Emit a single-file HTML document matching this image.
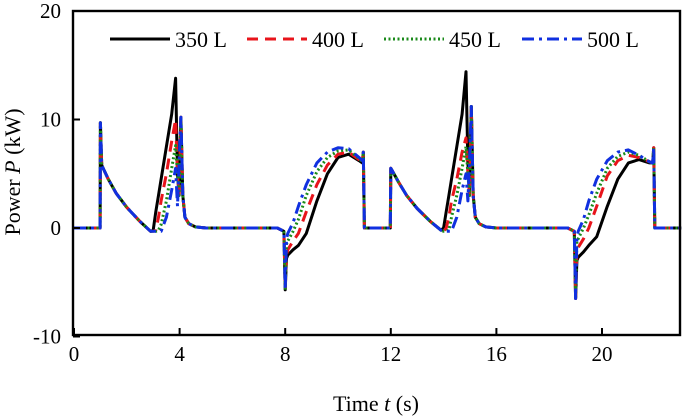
<!DOCTYPE html>
<html><head><meta charset="utf-8"><style>
html,body{margin:0;padding:0;background:#fff}
svg{display:block;font-family:"Liberation Serif",serif}
</style></head><body>
<svg id="chart" width="685" height="418" viewBox="0 0 685 418"></svg>
<script>
const times=[0,0.99,1.0,1.05,1.3,1.6,2.0,2.5,2.9,3.0,3.1,3.2,3.3,3.5,3.7,3.85,3.92,3.98,4.05,4.12,4.2,4.35,4.6,5,7.7,7.95,8.0,8.05,8.1,8.3,8.5,8.8,9.2,9.6,10.0,10.4,10.8,10.92,10.96,11.0,11.02,11.98,12.0,12.05,12.3,12.6,13,13.5,13.9,14.0,14.1,14.2,14.3,14.5,14.7,14.85,14.92,14.98,15.05,15.12,15.2,15.35,15.6,16,18.7,18.95,19.0,19.05,19.1,19.3,19.5,19.8,20.2,20.6,21.0,21.4,21.8,21.92,21.96,22.0,22.02,23];
const p350=[0,0,9.7,5.8,4.5,3.2,1.9,0.6,-0.3,-0.2,1.5,3.0,4.5,7.5,10.5,13.8,5,3,10.2,3,1,0.4,0.1,0,0,-0.3,-5.7,-2.8,-2.5,-2,-1.6,-0.5,2.5,5,6.5,6.8,6.2,6.0,7.0,0,0,0,5.5,5.3,4.2,3.0,1.8,0.6,-0.2,0,1.5,3,4.5,7.5,10.5,14.4,6,3,11.2,3,1,0.4,0.1,0,0,-0.3,-6.5,-3,-2.7,-2.2,-1.6,-0.8,2,4.5,6,6.3,6.0,6.0,7.4,0,0,0];
const p400=[0,0,9.7,5.8,4.5,3.2,1.9,0.6,-0.3,-0.3,-0.2,1,2.5,5,8,10,5,3,10.2,3,1,0.4,0.1,0,0,-0.3,-5.7,-2.5,-2.0,-1.2,-0.5,1.5,4,5.8,6.8,7,6.3,6.1,7.0,0,0,0,5.5,5.3,4.2,3.0,1.8,0.6,-0.2,-0.3,0,1,2.5,4.5,7,8.3,5,3,11.2,3,1,0.4,0.1,0,0,-0.3,-6.5,-2,-1.8,-1,0,2,4.8,6.2,6.7,6.5,6.1,6.0,7.4,0,0,0];
const p450=[0,0,9.7,5.8,4.5,3.2,1.9,0.6,-0.3,-0.3,-0.3,-0.2,0.3,2.5,5.5,7.6,5,3,10.2,3,1,0.4,0.1,0,0,-0.3,-5.7,-1.5,-1.2,-0.3,0.8,3,5.2,6.5,7.1,7.2,6.4,6.1,7.0,0,0,0,5.5,5.3,4.2,3.0,1.8,0.6,-0.2,-0.3,-0.3,-0.2,1,3,5.5,7.5,5,3,11.2,3,1,0.4,0.1,0,0,-0.3,-6.5,-1.2,-1,0,1.2,3.2,5.5,6.6,7.0,6.7,6.1,6.0,7.4,0,0,0];
const p500=[0,0,9.7,5.8,4.5,3.2,1.9,0.6,-0.3,-0.3,-0.3,-0.3,-0.3,1,3.5,5.5,2,6,10.2,3,1,0.4,0.1,0,0,-0.3,-5.7,-1,-0.5,0.5,2,4,6,7,7.4,7.3,6.5,6.2,7.0,0,0,0,5.5,5.3,4.2,3.0,1.8,0.6,-0.2,-0.3,-0.3,-0.3,-0.3,1,3.5,5,2.5,6,11.2,3,1,0.4,0.1,0,0,-0.3,-6.5,-0.8,-0.3,0.8,2.5,4.5,6.2,7,7.2,6.7,6.1,6.0,7.4,0,0,0];
const xTicks=[0,4,8,12,16,20];
const yTicks=[-10,0,10,20];
const seriesNames=["350 L","400 L","450 L","500 L"];

const NS="http://www.w3.org/2000/svg";
const svg=document.getElementById('chart');
const L=73,R=680,T=11,B=335;
const X=t=>74+t*26.4;
const Y=v=>228-v*10.85;
function mk(tag,attrs,parent){const e=document.createElementNS(NS,tag);for(const k in attrs)e.setAttribute(k,attrs[k]);(parent||svg).appendChild(e);return e;}

const styles=[
 {c:"#000",d:"",w:3},
 {c:"#e8141b",d:"11,7",w:3},
 {c:"#1a8a1a",d:"2,2.5",w:3},
 {c:"#1030e0",d:"12,5,3,5",w:3}
];
const series=[p350,p400,p450,p500];
const gData=mk('g',{});


series.forEach((vals,i)=>{
  let d=times.map((t,j)=>(j?'L':'M')+X(t).toFixed(1)+','+Y(vals[j]).toFixed(1)).join(' ');
  const p=mk('path',{d:d,fill:'none',stroke:styles[i].c,'stroke-width':styles[i].w,'stroke-dasharray':styles[i].d,'stroke-linejoin':'round'},gData);
  
  
});

const frame=mk('rect',{x:L,y:T,width:R-L,height:B-T,fill:'none',stroke:'#000','stroke-width':2.4});



xTicks.forEach(t=>{
  const ln=mk('line',{x1:X(t),x2:X(t),y1:B,y2:B-7,stroke:'#000','stroke-width':2});
  
  
  const tx=mk('text',{x:X(t),y:B+26,'font-size':21,'text-anchor':'middle'});
  tx.textContent=t;
  
  
});
yTicks.forEach(v=>{
  const ln=mk('line',{x1:L,x2:L+7,y1:Y(v),y2:Y(v),stroke:'#000','stroke-width':2});
  
  
  const tx=mk('text',{x:61,y:Y(v)+7,'font-size':21,'text-anchor':'end'});
  tx.textContent=v;
  
  
});

const xt=mk('text',{x:376,y:411,'font-size':22,'text-anchor':'middle'});
xt.innerHTML='Time <tspan font-style="italic">t</tspan> (s)';


const yt=mk('text',{x:0,y:0,'font-size':22,'text-anchor':'middle',transform:'translate(20,172) rotate(-90)'});
yt.innerHTML='Power <tspan font-style="italic">P</tspan> (kW)';



const legX=[110,247,384,522];
legX.forEach((lx,i)=>{
  const g=mk('g',{});
  
  
  mk('line',{x1:lx,x2:lx+60,y1:39,y2:39,stroke:styles[i].c,'stroke-width':3,'stroke-dasharray':styles[i].d},g);
  const tx=mk('text',{x:lx+65,y:47,'font-size':22},g);
  tx.textContent=seriesNames[i];
});
</script>
</body></html>
